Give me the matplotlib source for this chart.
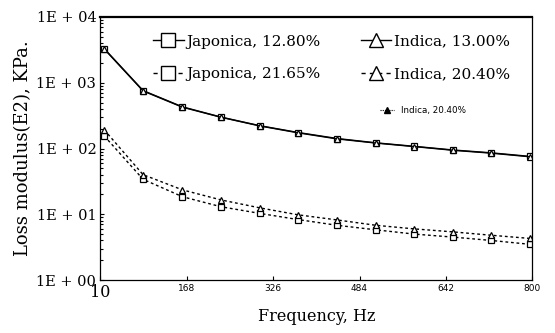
import matplotlib
matplotlib.use("Agg")
import matplotlib.pyplot as plt
from matplotlib.lines import Line2D

freq = [17, 88, 160, 231, 302, 372, 443, 514, 584, 655, 725, 795]
japonica_1280 = [3300, 760, 430, 300, 222, 175, 142, 122, 108, 95, 86, 76]
indica_1300 = [3250, 750, 425, 298, 220, 173, 140, 121, 107, 94, 85, 75]
japonica_2165 = [155, 34, 18.5, 13, 10.3, 8.3, 6.8, 5.8, 5.0, 4.5, 4.0, 3.5]
indica_2040 = [192, 40, 23.5, 16.5, 12.5, 9.8, 8.2, 6.8, 6.0, 5.4, 4.8, 4.3]

xticks = [10, 168, 326, 484, 642, 800]
yticks = [1, 10, 100, 1000, 10000]
ytick_labels = ["1E + 00", "1E + 01", "1E + 02", "1E + 03", "1E + 04"]

serif = "DejaVu Serif"
dotted = (0, (2, 2))

fig = plt.figure(figsize=(5.55, 3.33), dpi=100)
ax = fig.add_axes([0.181, 0.159, 0.778, 0.79])

mk = dict(color="black", lw=1.0, markersize=5, markerfacecolor="white", markeredgewidth=0.9)
ax.plot(freq, japonica_1280, "-", marker="s", **mk)
ax.plot(freq, indica_1300, "-", marker="^", **mk)
ax.plot(freq, japonica_2165, linestyle=dotted, marker="s", **mk)
ax.plot(freq, indica_2040, linestyle=dotted, marker="^", **mk)

ax.set_yscale("log")
ax.set_ylim(1, 10000)
ax.set_xlim(10, 800)
ax.set_yticks(yticks)
ax.set_yticklabels(ytick_labels, fontfamily=serif, fontsize=10.5)
ax.set_xticks(xticks)
ax.set_xticklabels([str(t) for t in xticks])
for i, lab in enumerate(ax.get_xticklabels()):
    if i == 0:
        lab.set_fontfamily(serif)
        lab.set_fontsize(11.5)
    else:
        lab.set_fontfamily("DejaVu Sans")
        lab.set_fontsize(6.5)
ax.tick_params(axis="both", which="both", direction="in", length=3, width=0.8, pad=3)
ax.tick_params(axis="y", which="minor", length=2)
for side in ["left", "bottom", "right"]:
    ax.spines[side].set_linewidth(0.9)
ax.spines["top"].set_linewidth(1.6)

ax.set_xlabel("Frequency, Hz", fontfamily=serif, fontsize=11.5, labelpad=5)
ax.set_ylabel("Loss modulus(E2), KPa.", fontfamily=serif, fontsize=13, labelpad=3)

hk = dict(color="black", lw=1.0, markersize=10, markerfacecolor="white", markeredgewidth=1.0)
handles = [
    Line2D([], [], linestyle="-", marker="s", **hk),
    Line2D([], [], linestyle=(0, (3, 3)), marker="s", **hk),
    Line2D([], [], linestyle="-", marker="^", **hk),
    Line2D([], [], linestyle=(0, (3, 3)), marker="^", **hk),
]
labels = ["Japonica, 12.80%", "Japonica, 21.65%", "Indica, 13.00%", "Indica, 20.40%"]
leg = ax.legend(handles, labels, ncol=2, loc="upper left", bbox_to_anchor=(0.09, 0.985),
                frameon=False, handlelength=2.0, handletextpad=0.2, columnspacing=2.6,
                labelspacing=1.2, prop={"family": serif, "size": 11})
ax.add_artist(leg)

small = Line2D([], [], linestyle=(0, (1, 1)), marker="^", color="black", lw=0.8,
               markersize=4, markerfacecolor="black")
ax.legend([small], ["Indica, 20.40%"], loc="upper left", bbox_to_anchor=(0.63, 0.69),
          frameon=False, handlelength=1.6, handletextpad=0.8,
          prop={"family": "DejaVu Sans", "size": 6.3})

fig.savefig("out.png", dpi=100)
